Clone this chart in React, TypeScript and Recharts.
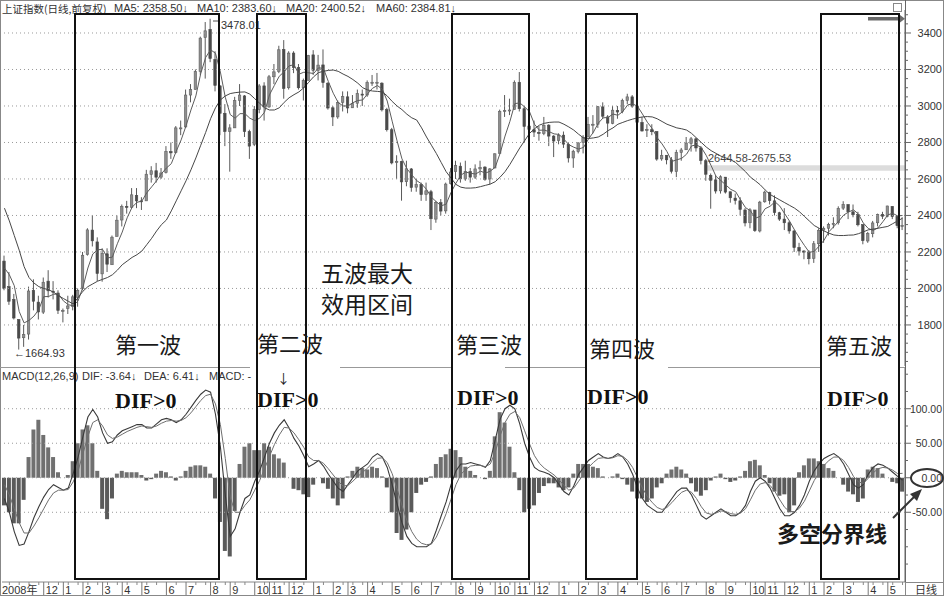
import React from 'react';
import { ComposedChart, Bar, Line, XAxis, YAxis, ReferenceLine, ReferenceArea, Cell } from 'recharts';

// weekly samples (Oct 2008 - May 2012)
const opens = [
  2150, 2010, 1940, 1830, 1730, 1750, 1990, 1925, 1870, 2040, 1985, 1975, 1880,
  1890, 1900, 1950, 2000, 2185, 2320, 2255, 2080, 2190, 2130, 2285, 2375, 2450,
  2445, 2510, 2480, 2480, 2625, 2645, 2610, 2635, 2750, 2745, 2880, 2885, 3060,
  3090, 3190, 3375, 3420, 3255, 3110, 2960, 2860, 2880, 3030, 3055, 2860, 2790,
  2980, 3110, 2995, 3160, 3190, 3310, 3100, 3290, 3210, 3100, 3140, 3280, 3195,
  3225, 3125, 2990, 2940, 3020, 3050, 2990, 3015, 3065, 3060, 3130, 3130, 3125,
  2980, 2870, 2690, 2695, 2585, 2655, 2555, 2570, 2515, 2530, 2380, 2470, 2425,
  2575, 2640, 2670, 2600, 2640, 2610, 2655, 2665, 2600, 2660, 2740, 2970, 2975,
  2980, 3130, 2985, 2890, 2870, 2855, 2850, 2895, 2835, 2810, 2840, 2790, 2715,
  2750, 2800, 2830, 2900, 2900, 2995, 2940, 2905, 2975, 2970, 3030, 3050, 3000,
  2910, 2865, 2870, 2860, 2710, 2730, 2705, 2640, 2745, 2760, 2795, 2820, 2770,
  2700, 2620, 2595, 2535, 2610, 2530, 2495, 2480, 2430, 2360, 2430, 2315, 2475,
  2525, 2480, 2415, 2380, 2360, 2315, 2225, 2205, 2200, 2165, 2245, 2320, 2330,
  2350, 2360, 2440, 2460, 2420, 2405, 2350, 2260, 2300, 2360, 2405, 2395, 2450, 2395, 2345,
];
const highs = [
  2180, 2090, 1970, 1830, 1800, 2010, 2050, 1960, 2060, 2100, 2040, 1990, 1890,
  1960, 1965, 2000, 2200, 2330, 2402, 2280, 2220, 2220, 2290, 2400, 2460, 2480,
  2550, 2550, 2500, 2650, 2670, 2688, 2660, 2780, 2800, 2890, 2920, 3090, 3120,
  3200, 3380, 3460, 3478, 3300, 3115, 3010, 2900, 3050, 3120, 3060, 2870, 3000,
  3120, 3130, 3170, 3230, 3330, 3361, 3300, 3300, 3230, 3150, 3280, 3306, 3280,
  3310, 3130, 3000, 3030, 3080, 3080, 3060, 3090, 3090, 3140, 3170, 3181, 3130,
  2990, 2880, 2730, 2700, 2700, 2660, 2600, 2580, 2580, 2540, 2480, 2490, 2580,
  2660, 2700, 2690, 2700, 2660, 2680, 2700, 2670, 2660, 2740, 2980, 3060, 3040,
  3140, 3186, 3000, 2900, 2920, 2890, 2940, 2900, 2840, 2850, 2860, 2800, 2760,
  2800, 2840, 2940, 2950, 3000, 3020, 2950, 3000, 3000, 3040, 3067, 3060, 3000,
  2940, 2900, 2900, 2860, 2760, 2730, 2720, 2760, 2770, 2830, 2830, 2826, 2780,
  2710, 2630, 2620, 2620, 2610, 2530, 2520, 2500, 2440, 2440, 2430, 2480, 2536,
  2530, 2510, 2420, 2440, 2370, 2320, 2250, 2210, 2210, 2260, 2330, 2340, 2360,
  2390, 2450, 2478, 2460, 2460, 2420, 2350, 2310, 2370, 2410, 2420, 2453, 2450, 2400, 2390,
];
const lows = [
  1990, 1910, 1830, 1665, 1680, 1720, 1880, 1830, 1860, 1950, 1940, 1860, 1814,
  1860, 1880, 1900, 1990, 2180, 2230, 2040, 2037, 2090, 2130, 2285, 2340, 2410,
  2440, 2440, 2430, 2480, 2580, 2580, 2600, 2630, 2710, 2740, 2840, 2880, 3020,
  3090, 3170, 3150, 3240, 3080, 2840, 2780, 2640, 2880, 3000, 2830, 2710, 2780,
  2960, 2920, 2990, 3120, 3180, 3040, 3090, 3180, 3090, 3030, 3140, 3170, 3140,
  3100, 2980, 2890, 2930, 2970, 2960, 2990, 2990, 3000, 3050, 3110, 3090, 2970,
  2860, 2680, 2600, 2481, 2560, 2530, 2530, 2480, 2480, 2320, 2360, 2400, 2410,
  2570, 2600, 2580, 2590, 2580, 2600, 2620, 2590, 2570, 2660, 2740, 2940, 2950,
  2980, 2970, 2800, 2790, 2830, 2810, 2840, 2780, 2720, 2790, 2770, 2690, 2661,
  2740, 2740, 2830, 2850, 2880, 2930, 2830, 2900, 2930, 2960, 3010, 2990, 2900,
  2860, 2830, 2840, 2700, 2700, 2680, 2630, 2610, 2700, 2760, 2750, 2750, 2680,
  2590, 2437, 2520, 2520, 2520, 2470, 2460, 2400, 2340, 2330, 2310, 2307, 2470,
  2460, 2400, 2370, 2320, 2300, 2200, 2180, 2160, 2132, 2140, 2200, 2250, 2290,
  2330, 2350, 2430, 2380, 2390, 2340, 2242, 2250, 2280, 2340, 2380, 2390, 2380, 2330, 2320,
];
const closes = [
  2000, 1930, 1838, 1728, 1747, 1986, 1930, 1871, 2034, 1987, 1980, 1880, 1880,
  1904, 1954, 1990, 2182, 2321, 2261, 2082, 2193, 2133, 2281, 2374, 2449, 2444,
  2513, 2480, 2477, 2626, 2645, 2610, 2633, 2751, 2743, 2880, 2880, 3060, 3090,
  3189, 3372, 3412, 3260, 3113, 2960, 2860, 2880, 3030, 3060, 2860, 2780, 2980,
  3110, 2995, 3160, 3187, 3308, 3096, 3290, 3210, 3100, 3140, 3277, 3196, 3224,
  3128, 2989, 2940, 3018, 3051, 2989, 3013, 3068, 3060, 3128, 3130, 3130, 2979,
  2870, 2688, 2697, 2584, 2656, 2553, 2569, 2514, 2535, 2382, 2470, 2424, 2572,
  2638, 2673, 2600, 2642, 2610, 2655, 2663, 2598, 2655, 2738, 2971, 2975, 2978,
  3129, 2985, 2888, 2871, 2857, 2850, 2894, 2835, 2808, 2838, 2791, 2715, 2752,
  2798, 2827, 2899, 2900, 2996, 2944, 2906, 2977, 2967, 3030, 3050, 2999, 2911,
  2863, 2871, 2859, 2709, 2728, 2705, 2642, 2746, 2759, 2797, 2820, 2770, 2701,
  2626, 2593, 2534, 2612, 2528, 2497, 2482, 2433, 2359, 2431, 2317, 2473, 2528,
  2481, 2416, 2380, 2360, 2315, 2224, 2205, 2199, 2163, 2245, 2319, 2330, 2351,
  2357, 2439, 2460, 2420, 2404, 2349, 2262, 2302, 2359, 2406, 2396, 2452, 2394, 2344, 2345,
];
const ma20 = [
  2112, 2075, 2015, 1874, 1811, 1825, 1848, 1884, 1955, 1956, 1968, 1970, 1932,
  1911, 1905, 1932, 2008, 2112, 2189, 2212, 2214, 2167, 2172, 2245, 2309, 2387,
  2445, 2472, 2479, 2524, 2557, 2590, 2629, 2660, 2684, 2752, 2814, 2891, 2978,
  3055, 3178, 3266, 3308, 3289, 3186, 3048, 2953, 2933, 2958, 2958, 2933, 2920,
  2933, 2966, 3061, 3113, 3163, 3188, 3220, 3226, 3174, 3185, 3182, 3178, 3209,
  3206, 3134, 3070, 3019, 3000, 3000, 3018, 3030, 3033, 3067, 3097, 3112, 3092,
  3027, 2917, 2809, 2710, 2656, 2623, 2591, 2573, 2543, 2500, 2475, 2453, 2462,
  2526, 2577, 2621, 2638, 2631, 2627, 2643, 2632, 2643, 2664, 2741, 2835, 2916,
  3013, 3017, 2995, 2968, 2900, 2867, 2868, 2859, 2847, 2844, 2818, 2788, 2774,
  2764, 2773, 2819, 2856, 2906, 2935, 2937, 2956, 2949, 2970, 3006, 3012, 2998,
  2956, 2911, 2876, 2826, 2792, 2750, 2696, 2705, 2713, 2736, 2781, 2787, 2772,
  2729, 2673, 2614, 2591, 2567, 2543, 2530, 2485, 2443, 2426, 2385, 2395, 2437,
  2450, 2475, 2451, 2409, 2368, 2320, 2276, 2236, 2198, 2203, 2232, 2264, 2311,
  2339, 2369, 2402, 2419, 2431, 2408, 2359, 2329, 2318, 2332, 2366, 2403, 2412, 2397, 2400,
];
const ma60 = [
  2440, 2370, 2290, 2210, 2120, 2060, 2030, 2010, 2000, 1993, 1980, 1960, 1945,
  1930, 1915, 1950, 1985, 2010, 2025, 2040, 2050, 2060, 2075, 2100, 2130, 2150,
  2170, 2185, 2205, 2240, 2275, 2315, 2350, 2375, 2425, 2480, 2535, 2590, 2650,
  2715, 2785, 2855, 2930, 2990, 3033, 3055, 3068, 3073, 3076, 3077, 3065, 3040,
  3015, 2990, 2978, 2978, 2990, 3020, 3045, 3062, 3077, 3100, 3130, 3160, 3183,
  3190, 3195, 3197, 3190, 3175, 3162, 3145, 3125, 3100, 3088, 3082, 3080, 3077,
  3055, 3025, 3000, 2980, 2955, 2935, 2923, 2880, 2830, 2785, 2740, 2690, 2640,
  2605, 2570, 2555, 2550, 2550, 2552, 2558, 2565, 2572, 2585, 2610, 2640, 2680,
  2725, 2770, 2810, 2850, 2875, 2895, 2905, 2910, 2912, 2912, 2900, 2885, 2868,
  2845, 2825, 2822, 2825, 2830, 2845, 2865, 2880, 2900, 2910, 2920, 2928, 2935,
  2940, 2942, 2940, 2930, 2915, 2900, 2890, 2880, 2875, 2868, 2850, 2825, 2800,
  2775, 2755, 2740, 2725, 2715, 2705, 2690, 2665, 2640, 2610, 2590, 2568, 2540,
  2515, 2500, 2485, 2470, 2455, 2440, 2420, 2395, 2370, 2345, 2330, 2315, 2303,
  2293, 2290, 2290, 2292, 2293, 2300, 2310, 2321, 2325, 2330, 2335, 2340, 2355, 2370, 2385,
];
const dif = [
  -30, -50, -78, -98, -96, -78, -58, -42, -28, -17, -10, -14, -18,
  -15, 6, 30, 60, 88, 99, 88, 65, 50, 52, 62, 68, 71,
  74, 77, 77, 72, 72, 78, 84, 86, 84, 80, 84, 92, 102,
  112, 121, 127, 124, 92, 45, -25, -85, -74, -50, -30, -25, -5,
  10, 30, 50, 65, 76, 84, 72, 57, 46, 32, 16, 20, 25,
  17, 5, -5, -15, -20, -10, 0, 10, 15, 20, 30, 35, 30,
  15, -10, -38, -65, -85, -95, -100, -100, -100, -95, -76, -55, -35,
  -10, 10, 20, 20, 22, 20, 18, 15, 25, 55, 85, 100, 105,
  100, 78, 50, 30, 15, 10, 8, 5, 0, -10, -20, -25, -12,
  5, 15, 25, 30, 35, 30, 28, 30, 35, 30, 20, 5, -15,
  -30, -40, -45, -50, -50, -40, -30, -20, -15, -15, -25, -40, -55,
  -60, -55, -50, -45, -50, -55, -55, -50, -40, -20, -5, 0, -5,
  -15, -30, -45, -55, -55, -50, -40, -25, -5, 10, 20, 28, 32,
  35, 30, 20, 5, -10, -15, -10, 5, 15, 20, 18, 14, 8, 2, -3.64,
];
const dea = [
  -10, -25, -45, -65, -80, -80, -70, -58, -45, -32, -22, -18, -18,
  -17, -6, 10, 35, 60, 80, 84, 75, 62, 57, 59, 63, 67,
  70, 73, 75, 74, 73, 75, 79, 82, 83, 82, 83, 87, 94,
  103, 112, 119, 121, 107, 77, 28, -28, -50, -50, -40, -32, -18,
  -4, 13, 31, 48, 62, 73, 72, 65, 55, 44, 30, 25, 25,
  21, 13, 4, -5, -12, -11, -5, 2, 8, 14, 22, 28, 29,
  22, 6, -16, -40, -62, -78, -89, -95, -97, -96, -86, -70, -52,
  -31, -10, 5, 12, 17, 18, 18, 16, 20, 37, 61, 80, 92,
  96, 87, 68, 49, 32, 21, 14, 9, 4, -3, -11, -18, -15,
  -5, 5, 15, 22, 28, 29, 28, 29, 32, 31, 25, 15, 0,
  -15, -27, -36, -43, -46, -43, -36, -28, -21, -18, -21, -30, -42,
  -51, -53, -51, -48, -49, -52, -53, -51, -45, -32, -18, -9, -7,
  -11, -20, -32, -43, -49, -49, -44, -34, -19, -4, 8, 18, 25,
  30, 30, 25, 15, 2, -6, -8, -1, 7, 13, 15, 14, 11, 6, 6.41,
];
const macdBars = [
  -40, -50, -66, -66, -32, 30, 70, 84, 62, 44, 30, 8, 0,
  4, 24, 50, 70, 76, 50, 10, -45, -60, -30, 6, 10, 8,
  8, 8, 4, -4, -2, 6, 10, 8, 2, -4, 2, 10, 16,
  18, 18, 16, 6, -30, -64, -106, -114, -48, 20, 45, 50, 40,
  40, 50, 45, 34, 28, 22, 0, -16, -18, -24, -28, -10, 0,
  -8, -16, -30, -40, -30, 2, 10, 16, 14, 12, 16, 14, 2,
  -14, -50, -80, -90, -75, -50, -22, -10, -6, 2, 20, 30, 34,
  42, 40, 30, 16, 10, 4, 0, -2, 10, 60, 95, 80, 45,
  8, -18, -50, -45, -40, -22, -12, -8, -8, -14, -18, -14, 6,
  20, 20, 20, 16, 14, 2, 0, 2, 6, -2, -10, -20, -30,
  -30, -35, -30, -14, -8, 6, 12, 16, 12, 6, -8, -20, -26,
  -18, -4, 2, 6, -2, -6, -4, 2, 10, 24, 26, 18, 4,
  -8, -20, -26, -24, -50, -40, 8, 18, 28, 28, 24, 20, 14,
  10, 0, -10, -20, -24, -35, -30, 12, 16, 14, 6, 0, -6, -8, -20.1,
];

// first week of each month on the date axis
const monthIdx = [0, 8, 12, 16, 20, 24, 28, 33, 37, 42, 46, 51, 54, 58, 63, 67, 70, 74, 79, 83, 87, 92, 96, 100,
  104, 108, 113, 117, 121, 125, 130, 134, 138, 143, 147, 152, 155, 159, 164, 167, 171, 176, 180];
const monthLabels = ['2008年', '12', '1', '2', '3', '4', '5', '6', '7', '8', '9', '10', '11', '12',
  '1', '2', '3', '4', '5', '6', '7', '8', '9', '10', '11', '12',
  '1', '2', '3', '4', '5', '6', '7', '8', '9', '10', '11', '12',
  '1', '2', '3', '4', '5'];

const priceLabels = [1800, 2000, 2200, 2400, 2600, 2800, 3000, 3200, 3400];
const priceMinor = [1600, 1650, 1700, 1750, 1850, 1900, 1950, 2050, 2100, 2150, 2250, 2300, 2350, 2450, 2500, 2550,
  2650, 2700, 2750, 2850, 2900, 2950, 3050, 3100, 3150, 3250, 3300, 3350, 3450, 3500];
const macdLabels = [-50, 0, 50, 100];
const macdMinor = [-125, -100, -75, -25, 25, 75, 125, 150];

const data = closes.map((c, i) => ({
  i,
  open: opens[i],
  high: highs[i],
  low: lows[i],
  close: c,
  ma20: ma20[i],
  ma60: ma60[i],
  dif: dif[i],
  dea: dea[i],
  macd: macdBars[i],
}));

const W = 944;
const AXIS_W = 39;
const SANS = '"Liberation Sans", Arial, "Noto Sans CJK SC", sans-serif';
const CJK = '"Noto Sans CJK SC", sans-serif';

const Candle = (props: any) => {
  const { x, y, width, height, payload } = props;
  if (!payload || height == null) return null;
  const { open, close, high, low } = payload;
  const span = high - low || 1;
  const py = (v: number) => y + ((high - v) / span) * height;
  const cx = x + width / 2;
  const top = py(Math.max(open, close));
  const bot = py(Math.min(open, close));
  const up = close >= open;
  return (
    <g>
      <line x1={cx} x2={cx} y1={y} y2={y + height} stroke="#5a5a5a" strokeWidth={1} />
      <rect
        x={cx - 1.25}
        y={top}
        width={2.5}
        height={Math.max(1, bot - top)}
        fill={up ? '#8e8e8e' : '#4a4a4a'}
        stroke={up ? '#606060' : '#4a4a4a'}
        strokeWidth={0.6}
      />
    </g>
  );
};

// right-hand scale: labels end at the frame edge
const PriceTick = ({ x, y, payload }: any) => {
  const major = priceLabels.includes(payload.value);
  return (
    <g>
      <line x1={x} x2={x + (major ? 6 : 3)} y1={y} y2={y} stroke="#666" />
      {major && (
        <text x={942} y={y + 4} textAnchor="end" fontSize={11} fill="#333" fontFamily={SANS}>
          {payload.value}
        </text>
      )}
    </g>
  );
};

const MacdTick = ({ x, y, payload }: any) => {
  const major = macdLabels.includes(payload.value);
  return (
    <g>
      <line x1={x} x2={x + (major ? 6 : 3)} y1={y} y2={y} stroke="#666" />
      {major && (
        <text x={942} y={y + 4} textAnchor="end" fontSize={10.5} fill="#333" fontFamily={SANS}>
          {payload.value.toFixed(2)}
        </text>
      )}
    </g>
  );
};

const DateTick = ({ x, y, payload }: any) => {
  const k = monthIdx.indexOf(payload.value);
  if (k === 0) {
    return (
      <text x={2} y={y + 12} fontSize={11} fill="#333" fontFamily={SANS}>
        {monthLabels[0]}
      </text>
    );
  }
  if (k > 0) {
    return (
      <g>
        <line x1={x} x2={x} y1={y} y2={y + 13} stroke="#777" />
        <text x={x + 2} y={y + 12} fontSize={11} fill="#333" fontFamily={SANS}>
          {monthLabels[k]}
        </text>
      </g>
    );
  }
  if (payload.value % 2 === 1) return <line x1={x} x2={x} y1={y} y2={y + 3} stroke="#888" />;
  return null;
};

const dotted = { stroke: '#9a9a9a', strokeDasharray: '1 3' };

const boxes = [
  [75, 219],
  [257, 306],
  [452, 529],
  [586, 637],
  [821, 899],
];

const waveLabels = [
  { x: 115, y: 343, t: '第一波' },
  { x: 257, y: 342, t: '第二波' },
  { x: 456, y: 343, t: '第三波' },
  { x: 589, y: 347, t: '第四波' },
  { x: 826, y: 344, t: '第五波' },
];

const difLabels = [
  [115, 400],
  [257, 399],
  [457, 397],
  [587, 396],
  [827, 398],
];

export default function App() {
  const ticksAll = data.map((d) => d.i);
  return (
    <div
      style={{
        position: 'absolute',
        left: 0,
        top: 0,
        width: W,
        height: 596,
        overflow: 'hidden',
        background: '#fff',
        fontFamily: SANS,
      }}
    >
      <div style={{ position: 'absolute', left: 0, top: 0 }}>
        <ComposedChart width={W} height={367} data={data} margin={{ top: 10, right: 0, bottom: 1, left: 2 }}>
          <XAxis dataKey="i" hide />
          <YAxis
            orientation="right"
            width={AXIS_W}
            domain={[1575, 3526]}
            allowDataOverflow
            ticks={[...priceLabels, ...priceMinor]}
            interval={0}
            tickSize={0}
            tickMargin={0}
            tick={(p: any) => <PriceTick {...p} />}
            axisLine={{ stroke: '#666' }}
          />
          {priceLabels.map((v) => (
            <ReferenceLine key={v} y={v} {...dotted} />
          ))}
          <ReferenceArea x1={143} x2={183} y1={2644.58} y2={2675.53} fill="#dcdcdc" fillOpacity={1} stroke="none" />
          <Bar
            dataKey={(d: any) => [d.low, d.high]}
            barSize={4}
            shape={(p: any) => <Candle {...p} />}
            isAnimationActive={false}
          />
          <Line type="linear" dataKey="ma20" stroke="#5c5c5c" strokeWidth={1} dot={false} isAnimationActive={false} />
          <Line type="linear" dataKey="ma60" stroke="#474747" strokeWidth={1} dot={false} isAnimationActive={false} />
        </ComposedChart>
      </div>

      <div style={{ position: 'absolute', left: 0, top: 367 }}>
        <ComposedChart width={W} height={229} data={data} margin={{ top: 1, right: 0, bottom: 0, left: 2 }}>
          <XAxis
            dataKey="i"
            height={14}
            ticks={ticksAll}
            interval={0}
            tickSize={0}
            tickMargin={0}
            tick={(p: any) => <DateTick {...p} />}
            axisLine={{ stroke: '#888' }}
          />
          <YAxis
            orientation="right"
            width={AXIS_W}
            domain={[-151, 159]}
            allowDataOverflow
            ticks={[...macdLabels, ...macdMinor]}
            interval={0}
            tickSize={0}
            tickMargin={0}
            tick={(p: any) => <MacdTick {...p} />}
            axisLine={{ stroke: '#666' }}
          />
          {macdLabels.map((v) => (
            <ReferenceLine key={v} y={v} {...dotted} />
          ))}
          <Bar dataKey="macd" barSize={4} isAnimationActive={false}>
            {data.map((d) => (
              <Cell key={d.i} fill={d.macd >= 0 ? '#707070' : '#5a5a5a'} />
            ))}
          </Bar>
          <Line type="linear" dataKey="dif" stroke="#3a3a3a" strokeWidth={1.1} dot={false} isAnimationActive={false} />
          <Line type="linear" dataKey="dea" stroke="#6e6e6e" strokeWidth={1} dot={false} isAnimationActive={false} />
        </ComposedChart>
      </div>

      <svg width={W} height={596} style={{ position: 'absolute', left: 0, top: 0, pointerEvents: 'none' }}>
        {/* frame */}
        <rect x={0.5} y={0.5} width={943} height={595} fill="none" stroke="#888" />
        <line x1={905.5} x2={905.5} y1={0} y2={596} stroke="#666" />
        {[[0, 250], [340, 452], [505, 586], [668, 821], [899, 905]].map(([a, b]) => (
          <line key={a} x1={a} x2={b} y1={367.5} y2={367.5} stroke="#999" />
        ))}
        <rect x={905.5} y={582.5} width={38} height={13} fill="#fff" stroke="#888" />
        <text x={915} y={594} fontSize={11} fill="#333" fontFamily={CJK}>日线</text>

        {/* header */}
        <g fontSize={11} fill="#333" fontFamily={SANS}>
          <text x={2} y={12.5} fontSize={10.5} fontFamily={CJK}>上证指数(日线,前复权)</text>
          <text x={114} y={12}>MA5: 2358.50↓</text>
          <text x={197} y={12}>MA10: 2383.60↓</text>
          <text x={286} y={12}>MA20: 2400.52↓</text>
          <text x={376} y={12}>MA60: 2384.81↓</text>
          <text x={2} y={380}>MACD(12,26,9)</text>
          <text x={82} y={380}>DIF: -3.64↓</text>
          <text x={144} y={380}>DEA: 6.41↓</text>
          <text x={209} y={380}>MACD: -</text>
        </g>
        <rect x={893.5} y={3.5} width={8} height={8} fill="none" stroke="#888" />
        <rect x={868} y={17} width={33} height={3.5} fill="#6a6a6a" />
        <polygon points="900,15 905,18.7 900,22.5" fill="#6a6a6a" />

        {/* price marks */}
        <polyline points="213,21 219,21 219,25" fill="none" stroke="#555" />
        <text x={221} y={29} fontSize={11} fill="#333">3478.01</text>
        <text x={14} y={357} fontSize={11} fill="#333">←1664.93</text>
        <text x={708} y={162} fontSize={11} fill="#444">2644.58-2675.53</text>

        {/* wave boxes */}
        {boxes.map(([a, b]) => (
          <rect key={a} x={a} y={14} width={b - a} height={565} fill="none" stroke="#111" strokeWidth={2} />
        ))}

        <g fontFamily={CJK} fill="#1a1a1a">
          {waveLabels.map((w) => (
            <text key={w.t} x={w.x} y={w.y} fontSize={22} dominantBaseline="central">
              {w.t}
            </text>
          ))}
          <text x={321} y={272} fontSize={23} dominantBaseline="central">五波最大</text>
          <text x={321} y={303} fontSize={23} dominantBaseline="central">效用区间</text>
          <text x={777} y={532} fontSize={22} fontWeight={700} dominantBaseline="central">多空分界线</text>
          <text x={277} y={377} fontSize={13} dominantBaseline="central">↓</text>
        </g>
        <g fontFamily='"Liberation Serif", "Times New Roman", serif' fontWeight={700} fill="#111">
          {difLabels.map(([x, y]) => (
            <text key={x} x={x} y={y} fontSize={22} dominantBaseline="central">
              DIF&gt;0
            </text>
          ))}
        </g>

        {/* zero-line callout */}
        <ellipse cx={927} cy={478} rx={16} ry={9} fill="none" stroke="#333" strokeWidth={2} />
        <line x1={893} y1={518} x2={916} y2={495} stroke="#333" strokeWidth={2} />
        <polygon points="922,489 910,494 917,501" fill="#333" />
      </svg>
    </div>
  );
}
